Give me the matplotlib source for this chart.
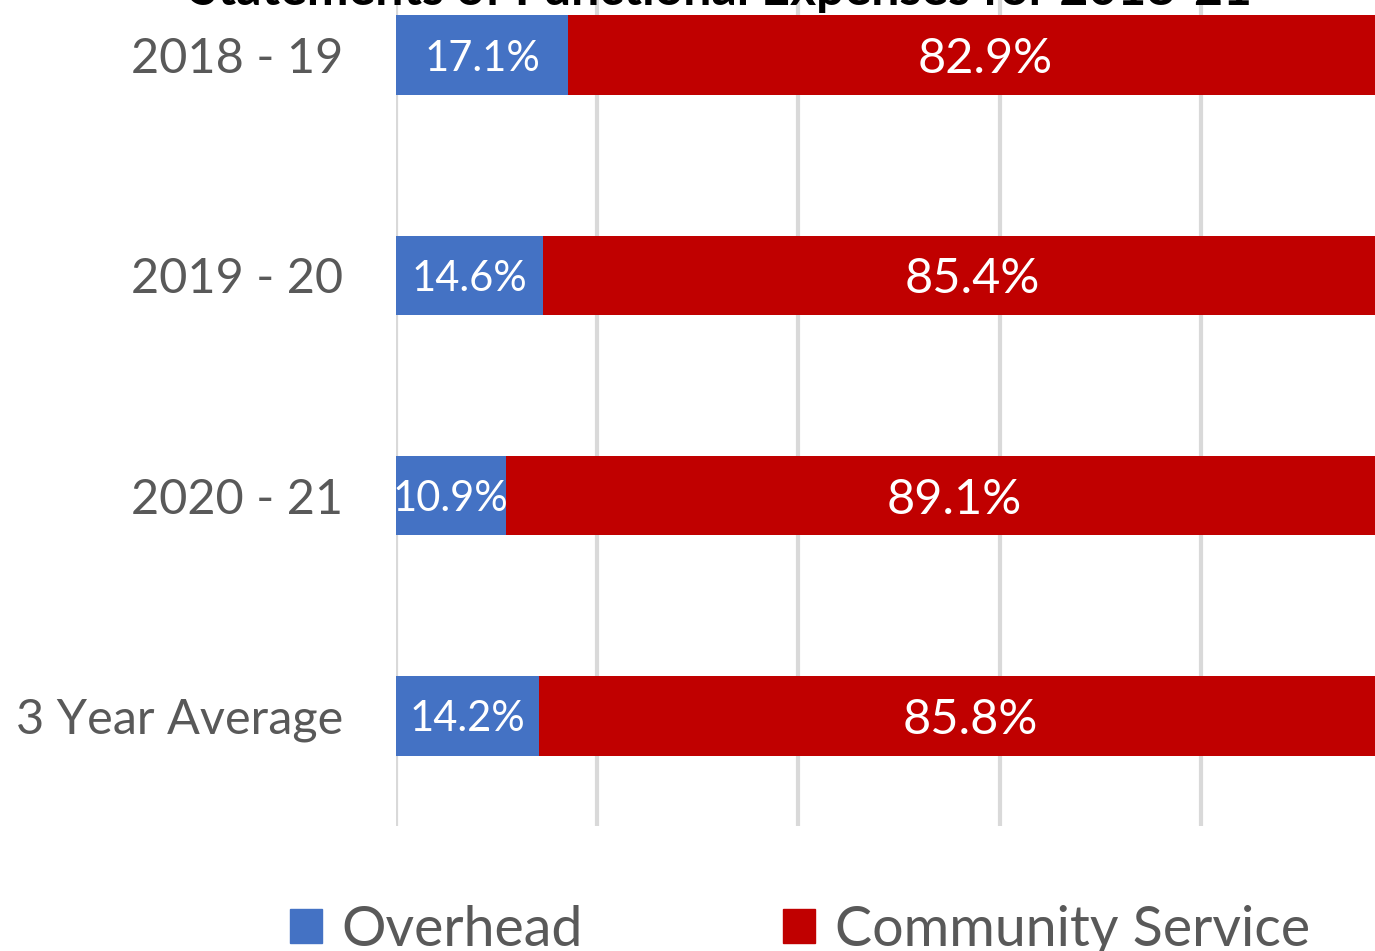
import matplotlib.pyplot as plt
from matplotlib.patches import Patch

categories = ['2018 - 19', '2019 - 20', '2020 - 21', '3 Year Average']
overhead = [17.1, 14.6, 10.9, 14.2]
community = [82.9, 85.4, 89.1, 85.8]
title = 'Statements of Functional Expenses for 2018-21'

blue = '#4472C4'
red = '#C00000'
grey = '#595959'
font = ['Lato', 'DejaVu Sans']

fig = plt.figure(figsize=(13.75, 9.51), dpi=100)
# the picture is a crop: axes run past the top and right edges
ax = fig.add_axes([396 / 1375, 125 / 951, 1006 / 1375, 881 / 951])

y = range(len(categories))
b1 = ax.barh(y, overhead, height=0.36, color=blue, zorder=2)
b2 = ax.barh(y, community, left=overhead, height=0.36, color=red, zorder=2)

for rect, v in zip(b1, overhead):
    ax.text(rect.get_x() + rect.get_width() / 2, rect.get_y() + rect.get_height() / 2,
            f'{v}%', ha='center', va='center_baseline', color='white', fontsize=30,
            family=font, zorder=3)
for rect, v in zip(b2, community):
    ax.text(rect.get_x() + rect.get_width() / 2, rect.get_y() + rect.get_height() / 2,
            f'{v}%', ha='center', va='center_baseline', color='white', fontsize=35,
            family=font, zorder=3)

ax.set_xlim(0, 100)
ax.set_ylim(3.5, -0.5)
ax.set_xticks([0, 20, 40, 60, 80, 100])
ax.xaxis.grid(True, color='#D9D9D9', linewidth=3, zorder=0)
ax.tick_params(axis='x', length=0, labelbottom=False)
ax.set_yticks(list(y))
ax.set_yticklabels(categories, fontsize=35, color=grey, family=font)
ax.tick_params(axis='y', length=0, pad=38)
for s in ax.spines.values():
    s.set_visible(False)

fig.text(0.524, 1 - 5 / 951, title, ha='center', va='baseline', fontsize=36,
         fontweight='bold', family=font, color='black')

handles = [Patch(color=blue, label='Overhead'), Patch(color=red, label='Community Service')]
leg = fig.legend(handles=handles, loc='center', bbox_to_anchor=(800 / 1375, 1 - 930 / 951),
                 ncol=2, frameon=False, handlelength=0.58, handleheight=0.58,
                 handletextpad=0.36, columnspacing=3.6, prop={'family': font, 'size': 40})
for t in leg.get_texts():
    t.set_color(grey)

fig.savefig('out.png', dpi=100)
